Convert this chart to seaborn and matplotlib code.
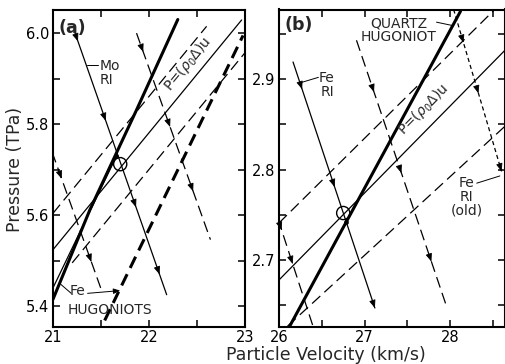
import numpy as np
import matplotlib
matplotlib.use("Agg")
import matplotlib.pyplot as plt
import seaborn as sns

# ---------------- Panel (a): Mo / Fe impedance match ----------------
a_fe_hug_thick_u = [21.0, 21.385, 21.872, 22.30]
a_fe_hug_thick_p = [5.415, 5.612, 5.832, 6.03]
a_fe_hug_thin_u = [21.0, 21.66]
a_fe_hug_thin_p = [5.44, 5.729]
a_fe_hug_dash_u = [21.45, 22.98]
a_fe_hug_dash_p = [5.330, 5.995]
a_ray_u = [21.0, 22.965]
a_ray_p = [5.524, 6.029]
a_ray_hi_u = [21.0, 22.6]
a_ray_hi_p = [5.604, 6.015]
a_ray_lo_u = [21.2, 23.0]
a_ray_lo_p = [5.495, 5.957]
a_mo_ri_u = [21.23, 22.184]
a_mo_ri_p = [6.0, 5.425]
a_mo_ri_lo_u = [20.99, 21.51]
a_mo_ri_lo_p = [5.739, 5.432]
a_mo_ri_hi_u = [21.87, 22.64]
a_mo_ri_hi_p = [6.0, 5.546]
a_mo_ri_arrows = [21.26, 21.55, 21.865, 22.11]
a_mo_ri_lo_arrows = [21.09, 21.40]
a_mo_ri_hi_arrows = [21.94, 22.22, 22.46]
a_match_u, a_match_p = [21.70], [5.712]
a_dot_u, a_dot_p = [21.66], [5.729]
a_xticks = [21, 22, 23]
a_yticks = [5.4, 5.6, 5.8, 6.0]
a_ytick_labels = ["5.4", "5.6", "5.8", "6.0"]

# ---------------- Panel (b): Fe / quartz impedance match ----------------
b_qz_hug_u = [26.12, 28.12]
b_qz_hug_p = [2.626, 2.975]
b_ray_u = [26.0, 28.64]
b_ray_p = [2.678, 2.932]
b_ray_hi_u = [26.0, 28.52]
b_ray_hi_p = [2.741, 2.977]
b_ray_lo_u = [26.1, 28.64]
b_ray_lo_p = [2.627, 2.848]
b_fe_ri_u = [26.164, 27.12]
b_fe_ri_p = [2.919, 2.647]
b_fe_ri_lo_u = [25.99, 26.40]
b_fe_ri_lo_p = [2.745, 2.626]
b_fe_ri_hi_u = [26.905, 27.96]
b_fe_ri_hi_p = [2.943, 2.648]
b_fe_ri_old_u = [28.04, 28.60]
b_fe_ri_old_p = [2.977, 2.798]
b_fe_ri_arrows = [26.27, 26.65, 27.12]
b_fe_ri_lo_arrows = [26.03, 26.16]
b_fe_ri_hi_arrows = [27.11, 27.43, 27.78]
b_fe_ri_old_arrows = [28.155, 28.33, 28.60]
b_match_u, b_match_p = [26.75], [2.752]
b_dot_u, b_dot_p = [26.785], [2.742]
b_xticks = [26, 27, 28]
b_yticks = [2.7, 2.8, 2.9]

sns.set_style("ticks")
plt.rcParams["font.family"] = ["DejaVu Sans"]
plt.rcParams["lines.scale_dashes"] = False

fig = plt.figure(figsize=(5.05, 3.64), dpi=100)
H = 364.0
W = 505.0
ax_a = fig.add_axes([53 / W, 1 - 327 / H, 192 / W, 317.5 / H])
ax_b = fig.add_axes([279 / W, 1 - 327 / H, 226 / W, 317.5 / H])

THICK = 2.2
THIN = 0.9
LONG = (0, (8, 4))
THICKDASH = (0, (9, 5))
SHORT = (0, (3, 2.2))


def line(ax, u, p, lw, ls="-"):
    sns.lineplot(x=u, y=p, ax=ax, color="black", linewidth=lw, linestyle=ls,
                 estimator=None, sort=False, legend=False)


def arrows(ax, u, p, at):
    for x in at:
        y = np.interp(x, u, p)
        x0 = x - 0.012 * (u[-1] - u[0])
        y0 = np.interp(x0, u, p)
        ax.annotate("", xy=(x, y), xytext=(x0, y0),
                    arrowprops=dict(arrowstyle="-|>,head_length=0.6,head_width=0.24",
                                    color="black", lw=0.6, shrinkA=0, shrinkB=0,
                                    mutation_scale=8))


# ---- panel (a)
line(ax_a, a_fe_hug_thick_u, a_fe_hug_thick_p, THICK)
line(ax_a, a_fe_hug_thin_u, a_fe_hug_thin_p, THIN)
line(ax_a, a_fe_hug_dash_u, a_fe_hug_dash_p, THICK, THICKDASH)
line(ax_a, a_ray_u, a_ray_p, THIN)
line(ax_a, a_ray_hi_u, a_ray_hi_p, THIN, LONG)
line(ax_a, a_ray_lo_u, a_ray_lo_p, THIN, LONG)
line(ax_a, a_mo_ri_u, a_mo_ri_p, THIN)
line(ax_a, a_mo_ri_lo_u, a_mo_ri_lo_p, THIN, LONG)
line(ax_a, a_mo_ri_hi_u, a_mo_ri_hi_p, THIN, LONG)
arrows(ax_a, a_mo_ri_u, a_mo_ri_p, a_mo_ri_arrows)
arrows(ax_a, a_mo_ri_lo_u, a_mo_ri_lo_p, a_mo_ri_lo_arrows)
arrows(ax_a, a_mo_ri_hi_u, a_mo_ri_hi_p, a_mo_ri_hi_arrows)
sns.scatterplot(x=a_match_u, y=a_match_p, ax=ax_a, s=90, facecolor="none",
                edgecolor="black", linewidth=1.0, legend=False)
sns.scatterplot(x=a_dot_u, y=a_dot_p, ax=ax_a, s=10, color="black",
                edgecolor="black", legend=False)

ax_a.set_xlim(21.0, 23.0)
ax_a.set_ylim(5.354, 6.052)
ax_a.set_xticks(a_xticks)
ax_a.set_xticklabels([str(t) for t in a_xticks])
ax_a.set_xticks([21.5, 22.5], minor=True)
ax_a.set_yticks(a_yticks)
ax_a.set_yticklabels(a_ytick_labels)
ax_a.set_yticks([5.5, 5.7, 5.9], minor=True)

ax_a.text(0.10, 0.943, "(a)", transform=ax_a.transAxes, ha="center", va="center",
          fontsize=12.5, fontweight="bold")
ax_a.text(21.49, 5.912, "Mo\nRI", ha="left", va="center", fontsize=10, linespacing=1.0)
ax_a.plot([21.35, 21.47], [5.93, 5.93], color="black", lw=0.7)
ax_a.text(22.40, 5.932, r"P=($\rho_0\Delta$)u", rotation=50.5, ha="center", va="center",
          rotation_mode="anchor", fontsize=10)
ax_a.text(21.17, 5.433, "Fe", ha="left", va="center", fontsize=10)
ax_a.text(21.59, 5.391, "HUGONIOTS", ha="center", va="center", fontsize=10)
ax_a.plot([21.19, 21.08], [5.428, 5.448], color="black", lw=0.7)
ax_a.annotate("", xy=(21.70, 5.434), xytext=(21.36, 5.428),
              arrowprops=dict(arrowstyle="-|>,head_length=0.5,head_width=0.2",
                              color="black", lw=0.7, shrinkA=0, shrinkB=0,
                              mutation_scale=8))

# ---- panel (b)
line(ax_b, b_qz_hug_u, b_qz_hug_p, THICK)
line(ax_b, b_ray_u, b_ray_p, THIN)
line(ax_b, b_ray_hi_u, b_ray_hi_p, THIN, LONG)
line(ax_b, b_ray_lo_u, b_ray_lo_p, THIN, LONG)
line(ax_b, b_fe_ri_u, b_fe_ri_p, THIN)
line(ax_b, b_fe_ri_lo_u, b_fe_ri_lo_p, THIN, LONG)
line(ax_b, b_fe_ri_hi_u, b_fe_ri_hi_p, THIN, LONG)
line(ax_b, b_fe_ri_old_u, b_fe_ri_old_p, THIN, SHORT)
arrows(ax_b, b_fe_ri_u, b_fe_ri_p, b_fe_ri_arrows)
arrows(ax_b, b_fe_ri_lo_u, b_fe_ri_lo_p, b_fe_ri_lo_arrows)
arrows(ax_b, b_fe_ri_hi_u, b_fe_ri_hi_p, b_fe_ri_hi_arrows)
arrows(ax_b, b_fe_ri_old_u, b_fe_ri_old_p, b_fe_ri_old_arrows)
sns.scatterplot(x=b_match_u, y=b_match_p, ax=ax_b, s=90, facecolor="none",
                edgecolor="black", linewidth=1.0, legend=False)
sns.scatterplot(x=b_dot_u, y=b_dot_p, ax=ax_b, s=10, color="black",
                edgecolor="black", legend=False)

ax_b.set_xlim(26.0, 28.64)
ax_b.set_ylim(2.626, 2.977)
ax_b.set_xticks(b_xticks)
ax_b.set_xticklabels([str(t) for t in b_xticks])
ax_b.set_xticks([26.5, 27.5, 28.5], minor=True)
ax_b.set_yticks(b_yticks)
ax_b.set_yticklabels([f"{t:.1f}" for t in b_yticks])
ax_b.set_yticks([2.65, 2.75, 2.85, 2.95], minor=True)

ax_b.text(0.088, 0.951, "(b)", transform=ax_b.transAxes, ha="center", va="center",
          fontsize=12.5, fontweight="bold")
ax_b.text(27.40, 2.954, "QUARTZ\nHUGONIOT", ha="center", va="center", fontsize=10,
          linespacing=1.0)
ax_b.plot([27.84, 28.04], [2.963, 2.959], color="black", lw=0.7)
ax_b.text(26.56, 2.894, "Fe\nRI", ha="center", va="center", fontsize=10, linespacing=1.0)
ax_b.plot([26.25, 26.46], [2.896, 2.902], color="black", lw=0.7)
ax_b.text(28.19, 2.770, "Fe\nRI\n(old)", ha="center", va="center", fontsize=10,
          linespacing=1.0)
ax_b.plot([28.31, 28.58], [2.785, 2.793], color="black", lw=0.7)
ax_b.text(27.69, 2.867, r"P=($\rho_0\Delta$)u", rotation=45.5, ha="center", va="center",
          rotation_mode="anchor", fontsize=10)

for ax in (ax_a, ax_b):
    ax.set_xlabel("")
    ax.set_ylabel("")
    for s in ax.spines.values():
        s.set_visible(True)
        s.set_linewidth(1.5)
        s.set_color("black")
    ax.tick_params(which="both", direction="in", top=True, right=True, length=5,
                   width=1.1, labelsize=10.5, pad=2.5, colors="black")
    ax.set_facecolor("white")

fig.text(326 / W, 1 - 355 / H, "Particle Velocity (km/s)", ha="center", va="center",
         fontsize=12.5)
fig.text(15 / W, 1 - 169 / H, "Pressure (TPa)", rotation=90, ha="center", va="center",
         fontsize=12.5)

fig.savefig("out.png", dpi=100, facecolor="white")
